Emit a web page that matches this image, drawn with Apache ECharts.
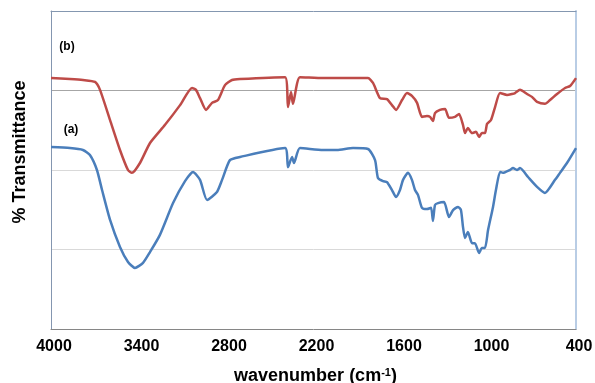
<!DOCTYPE html>
<html>
<head>
<meta charset="utf-8">
<script src="https://cdn.jsdelivr.net/npm/echarts@6/dist/echarts.min.js"></script>
<style>
  html, body { margin: 0; padding: 0; background: #fff; }
  #chart { width: 595px; height: 383px; }
</style>
</head>
<body>
<div id="chart"></div>
<script>
// x tick labels (cm-1)
var tickLabels = [4000, 3400, 2800, 2200, 1600, 1000, 400]

// (b) upper spectrum, red
var waveB = [4000, 3870, 3781, 3698, 3664, 3595, 3527, 3472, 3445, 3390, 3321, 3218, 3115, 3033, 3006,
  2978, 2937, 2896, 2855, 2807, 2759, 2704, 2395, 2375, 2354, 2341, 2293, 2135, 1929, 1826,
  1792, 1744, 1696, 1662, 1634, 1593, 1559, 1525, 1490, 1456, 1422, 1401, 1381, 1367, 1333,
  1298, 1271, 1230, 1202, 1175, 1161, 1141, 1113, 1086, 1065, 1045, 1024, 1010, 983, 955,
  921, 873, 839, 818, 784, 736, 702, 667, 613, 578, 530, 475, 441, 400]
var transB = [78.9, 78.6, 78.3, 77.7, 75.2, 65.7, 56.3, 50.0, 49.1, 52.2, 58.5, 64.2, 70.4, 75.8, 75.2,
  72.6, 68.9, 71.1, 72.0, 76.7, 78.3, 78.6, 79.2, 69.8, 74.5, 70.8, 79.2, 78.9, 78.9, 78.9,
  77.4, 72.6, 72.3, 70.4, 68.9, 72.0, 74.2, 73.3, 71.1, 66.7, 67.0, 66.7, 65.4, 67.9, 68.9,
  69.2, 66.4, 66.7, 67.6, 64.2, 61.6, 63.2, 61.6, 62.0, 60.4, 61.6, 61.6, 64.5, 65.7, 69.8,
  74.2, 73.6, 73.9, 74.2, 75.2, 73.9, 73.0, 71.4, 70.8, 72.0, 73.9, 75.8, 76.4, 78.9]

// (a) lower spectrum, blue
var waveA = [4000, 3870, 3781, 3733, 3685, 3650, 3595, 3527, 3472, 3424, 3369, 3321, 3253, 3163, 3081,
  3026, 2978, 2930, 2862, 2827, 2773, 2704, 2395, 2375, 2347, 2334, 2293, 2135, 2039, 1929,
  1826, 1778, 1758, 1723, 1696, 1662, 1634, 1607, 1586, 1552, 1525, 1504, 1483, 1456, 1422,
  1394, 1381, 1367, 1346, 1305, 1271, 1243, 1209, 1189, 1175, 1161, 1141, 1113, 1093, 1065,
  1045, 1024, 1003, 969, 949, 921, 901, 853, 832, 805, 784, 729, 667, 613, 544, 510, 462, 400]
var transA = [57.2, 56.9, 56.3, 54.7, 50.0, 43.7, 34.3, 25.8, 21.1, 19.2, 20.8, 24.2, 29.6, 39.6, 46.5,
  49.4, 46.9, 40.6, 43.1, 46.9, 53.1, 54.1, 56.9, 50.9, 54.1, 52.2, 56.9, 56.3, 56.3, 56.9,
  56.6, 53.1, 47.5, 46.5, 46.2, 43.7, 41.5, 43.7, 46.9, 49.1, 46.9, 43.7, 42.1, 38.1, 37.7,
  38.1, 34.0, 39.0, 39.6, 39.9, 35.2, 37.4, 38.4, 37.4, 32.1, 28.6, 30.5, 27.0, 27.0, 23.9,
  25.5, 25.5, 31.1, 38.4, 43.7, 49.4, 49.1, 50.0, 50.6, 50.0, 50.6, 47.8, 44.7, 42.8, 46.9, 49.1, 52.2, 56.9]

var font = 'Liberation Sans, Arial, sans-serif'

function pairs(xs, ys) {
  return xs.map(function (x, i) { return [x, ys[i]] })
}

var chart = echarts.init(document.getElementById('chart'), null, { renderer: 'canvas' })
chart.setOption({
  animation: false,
  backgroundColor: '#fff',
  grid: { left: 51, right: 19, top: 11, bottom: 54, outerBoundsMode: 'none', containLabel: false },
  xAxis: [{
    type: 'value',
    inverse: true,
    min: 400,
    max: 4000,
    axisLine: { show: true, onZero: false, lineStyle: { color: '#868686', width: 1 } },
    axisTick: { show: false },
    splitLine: { show: false },
    axisLabel: {
      customValues: tickLabels,
      formatter: function (v) { return String(v) },
      margin: 10,
      padding: [0, 0, 0, 6],
      color: '#000',
      fontSize: 16,
      fontWeight: 'bold',
      fontFamily: font
    },
    name: '{t|wavenumber (cm}{s|-1}{t|)}',
    nameLocation: 'middle',
    nameGap: 38,
    nameTextStyle: {
      padding: [0, 0, 0, 4],
      rich: {
        t: { fontSize: 18, fontWeight: 'bold', fontFamily: font, color: '#000' },
        s: { fontSize: 11, fontWeight: 'bold', fontFamily: font, color: '#000', verticalAlign: 'top' }
      }
    }
  }, {
    type: 'value',
    position: 'top',
    inverse: true,
    min: 400,
    max: 4000,
    axisLine: { show: true, onZero: false, lineStyle: { color: '#8497b0', width: 1 } },
    axisTick: { show: false },
    axisLabel: { show: false },
    splitLine: { show: false }
  }],
  yAxis: [{
    type: 'value',
    min: 0,
    max: 100,
    interval: 25,
    axisLine: { show: true, onZero: false, lineStyle: { color: '#8496b0', width: 1 } },
    axisTick: { show: false },
    axisLabel: { show: false },
    splitLine: {
      show: true,
      showMinLine: false,
      showMaxLine: false,
      lineStyle: { color: ['#d9d9d9', '#d9d9d9', '#a6a6a6'], width: 1 }
    }
  }, {
    type: 'value',
    position: 'right',
    min: 0,
    max: 100,
    axisLine: { show: true, onZero: false, lineStyle: { color: '#b9cde5', width: 2 } },
    axisTick: { show: false },
    axisLabel: { show: false },
    splitLine: { show: false }
  }],
  graphic: [
    {
      type: 'text',
      x: 20,
      y: 152,
      rotation: Math.PI / 2,
      style: {
        text: '% Transmittance',
        fontSize: 18,
        fontWeight: 'bold',
        fontFamily: font,
        fill: '#000',
        align: 'center',
        verticalAlign: 'middle'
      }
    },
    {
      type: 'text',
      x: 67,
      y: 47,
      style: { text: '(b)', fontSize: 12, fontWeight: 'bold', fontFamily: font, fill: '#000', align: 'center', verticalAlign: 'middle' }
    },
    {
      type: 'text',
      x: 71,
      y: 130,
      style: { text: '(a)', fontSize: 12, fontWeight: 'bold', fontFamily: font, fill: '#000', align: 'center', verticalAlign: 'middle' }
    }
  ],
  series: [
    {
      name: '(a)',
      type: 'line',
      data: pairs(waveA, transA),
      showSymbol: false,
      smooth: 0.2,
      lineStyle: { color: '#4a7ebb', width: 2.5 },
      itemStyle: { color: '#4a7ebb' }
    },
    {
      name: '(b)',
      type: 'line',
      data: pairs(waveB, transB),
      showSymbol: false,
      smooth: 0.2,
      lineStyle: { color: '#be4b48', width: 2.5 },
      itemStyle: { color: '#be4b48' }
    }
  ]
})
</script>
</body>
</html>
